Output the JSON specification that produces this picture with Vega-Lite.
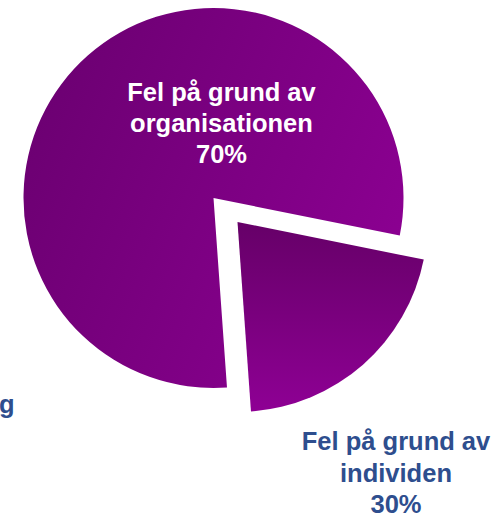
{
  "$schema": "https://vega.github.io/schema/vega-lite/v6.json",
  "width": 494,
  "height": 519,
  "padding": 0,
  "autosize": {"type": "fit", "contains": "padding"},
  "background": "white",
  "config": {"view": {"stroke": null}},
  "data": {
    "values": [
      {"kategori": "individen", "andel": 20.7, "etikett": "Fel på grund av\nindividen\n30%"},
      {"kategori": "organisationen", "andel": 79.3, "etikett": "Fel på grund av\norganisationen\n70%"}
    ]
  },
  "transform": [
    {"stack": "andel", "groupby": [], "sort": [{"field": "andel", "order": "ascending"}], "as": ["a0", "a1"]}
  ],
  "layer": [
    {
      "transform": [{"filter": "datum.kategori === 'organisationen'"}],
      "mark": {
        "type": "arc",
        "radius": 190,
        "xOffset": -35,
        "yOffset": -61.5,
        "color": {"gradient": "linear", "x1": 0, "y1": 0.3, "x2": 1, "y2": 0.7,
          "stops": [{"offset": 0, "color": "#6c0072"}, {"offset": 1, "color": "#8c0092"}]}
      },
      "encoding": {
        "theta": {"field": "a0", "type": "quantitative", "scale": {"domain": [0, 100], "range": [1.77, 8.053]}},
        "theta2": {"field": "a1"}
      }
    },
    {
      "transform": [{"filter": "datum.kategori === 'individen'"}],
      "mark": {
        "type": "arc",
        "radius": 190,
        "xOffset": -11,
        "yOffset": -37.5,
        "color": {"gradient": "linear", "x1": 0.5, "y1": 0, "x2": 0.5, "y2": 1,
          "stops": [{"offset": 0, "color": "#660068"}, {"offset": 1, "color": "#8e0094"}]}
      },
      "encoding": {
        "theta": {"field": "a0", "type": "quantitative"},
        "theta2": {"field": "a1"}
      }
    },
    {
      "transform": [{"filter": "datum.kategori === 'organisationen'"}],
      "mark": {
        "type": "text",
        "font": "Liberation Sans",
        "fontWeight": "bold",
        "fontSize": 25.5,
        "lineBreak": "\n",
        "lineHeight": 31,
        "align": "center",
        "baseline": "alphabetic",
        "color": "#ffffff",
        "xOffset": -27,
        "yOffset": -158.5
      },
      "encoding": {"text": {"field": "etikett"}}
    },
    {
      "transform": [{"filter": "datum.kategori === 'individen'"}],
      "mark": {
        "type": "text",
        "font": "Liberation Sans",
        "fontWeight": "bold",
        "fontSize": 25.5,
        "lineBreak": "\n",
        "lineHeight": 31.5,
        "align": "center",
        "baseline": "alphabetic",
        "color": "#2e4e8e",
        "xOffset": 147.5,
        "yOffset": 190.5
      },
      "encoding": {"text": {"field": "etikett"}}
    },
    {
      "data": {"values": [{"rest": "g"}]},
      "mark": {
        "type": "text",
        "font": "Liberation Sans",
        "fontWeight": "bold",
        "fontSize": 25.5,
        "align": "right",
        "baseline": "alphabetic",
        "color": "#2e4e8e",
        "xOffset": -234,
        "yOffset": 153.5
      },
      "encoding": {"text": {"field": "rest"}}
    }
  ]
}
